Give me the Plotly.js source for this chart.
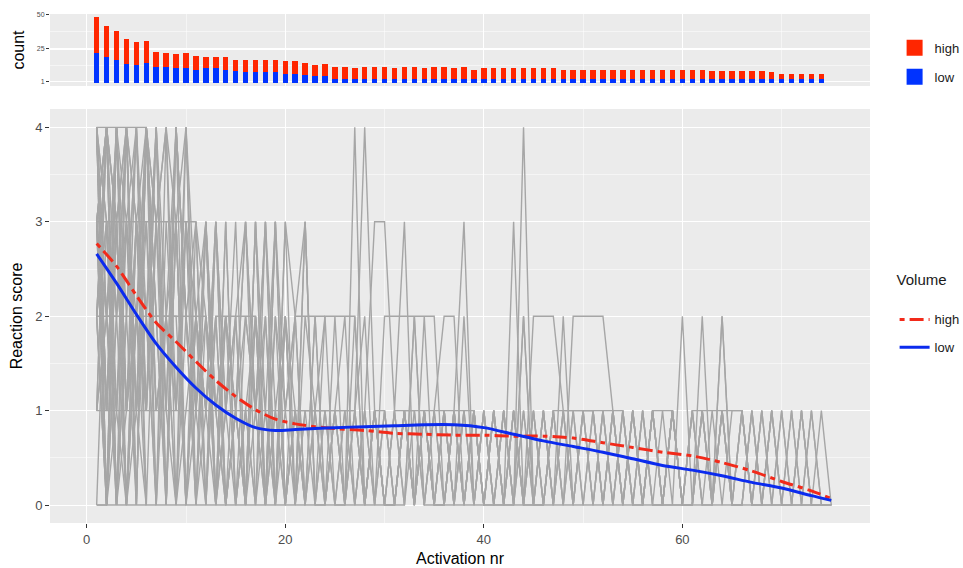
<!DOCTYPE html>
<html>
<head>
<meta charset="utf-8">
<script src="https://cdn.plot.ly/plotly-3.0.1.min.js"></script>
<style>html,body{margin:0;padding:0;background:#fff}#chart{width:963px;height:568px}</style>
</head>
<body>
<div id="chart"></div>
<script>
// ---- data ----
const activationNr = [1,2,3,4,5,6,7,8,9,10,11,12,13,14,15,16,17,18,19,20,21,22,23,24,25,26,27,28,29,30,31,32,33,34,35,36,37,38,39,40,41,42,43,44,45,46,47,48,49,50,51,52,53,54,55,56,57,58,59,60,61,62,63,64,65,66,67,68,69,70,71,72,73,74];
const lowCounts = [22,19,17,14,13,15,12,12,11,11,10,11,11,10,9,8,8,8,8,7,7,6,5,5,3,3,3,3,3,3,3,3,3,3,3,3,3,3,3,3,3,3,3,3,3,3,3,3,3,3,3,3,3,3,3,3,3,3,3,3,3,3,3,3,3,3,3,3,3,3,3,3,3,3];
const highCounts = [26,23,21,18,17,16,11,10,10,11,10,8,8,9,8,9,9,9,9,9,9,9,8,9,9,9,8,9,9,9,8,9,9,8,9,9,8,9,7,8,8,8,8,8,8,8,8,7,7,7,7,7,7,7,7,7,7,7,7,7,7,7,6,6,6,6,6,6,5,4,4,4,4,4];
const volumeGroups = ['high', 'low'];

// smoothed reaction score per volume group
const smoothX    = [1,3,5,7,9,11,13,15,17,19,21,23,25,28,31,34,37,40,43,46,49,52,55,58,61,64,67,70,73,75];
const highSmooth = [2.77,2.53,2.22,1.93,1.73,1.52,1.32,1.15,1.01,0.91,0.86,0.83,0.81,0.79,0.76,0.75,0.74,0.74,0.73,0.73,0.71,0.66,0.61,0.56,0.52,0.45,0.36,0.25,0.15,0.07];
const lowSmooth  = [2.66,2.35,2.02,1.71,1.46,1.24,1.06,0.92,0.82,0.79,0.80,0.81,0.82,0.83,0.84,0.85,0.85,0.82,0.75,0.68,0.62,0.56,0.49,0.42,0.37,0.31,0.24,0.18,0.10,0.05];

// individual reaction-score trajectories (score at activation 1, 2, 3, ...)
const subjectScores = [
 [4,4,4,4,4,4,3,1,0,1,2,1,0,1,0,1,0,1,0,1,0,1,1,1,0,0,1,0,1,1,0,1,0,1,0,1,0,1,0,1,0,1,0,1,0,0,1,0,1,0,1,0,1,0,1,0,1,0,1,0,1,0,0,1,0,0,1,0,1,0,1,0,0,0,0],
 [3,3,3,3,3,3,3,3,3,3,3,2,1,0,1,2,1,0,1,0,1,0,1,2,2,2,2,0,1,0,1,0,2,0,1,0,1,0,1,0,0,1,0,2,0,1,0,1,0,1,0,1,0,1,0,1,0,0,1,0,0,1,0,1,0,1,0,0,1,0,0,1,0,1,0],
 [2,2,2,2,2,2,2,2,2,2,2,2,1,0,1,0,1,0,1,0,1,1,1,1,1,1,1,0,1,0,1,1,1,1,1,1,1,1,1,0,1,0,1,0,1,0,1,1,1,1,1,0,1,0,1,0,1,0,1,0,1,1,1,1,1,1,0,1,0,1,0,1,0,0,0],
 [4,2,4,1,3,2,4,1,4,2,3,0,2,0,1,0,2,0,2,0,1,0,2,0,1,0,4,0,1,0,0,1,0,1,0,1,0,2,0,1,0,0,0,1,0,1,0,1,0,1,0,1,0,1,0,1,0,0,1,0,0,1,0,2,0,1,0,1,0,1,0,0,1,0,0],
 [3,4,3,4,3,4,3,4,3,4,2,3,1,2,1,3,1,2,0,2,0,2,1,0,1,0,1,4,1,0,1,0,1,0,1,0,1,0,1,0,1,0,1,0,0,0,1,0,1,0,1,0,1,0,1,0,1,0,0,0,1,0,0,0,0,0,0,0,0,0,0,0,0,0,0],
 [4,3,2,3,2,3,1,2,1,3,0,3,0,3,0,2,1,3,1,2,0,3,0,1,0,1,0,1,3,3,1,3,0,1,0,0,1,0,1,0,1,0,1,0,1,0,1,0,2,2,2,2,1,0,1,0,1,0,1,0,0,1,0,1,0,0,1,0,0,0,1,0,1,0,0],
 [3,1,4,2,0,4,2,0,3,0,2,1,3,0,2,0,3,0,2,1,2,0,1,0,2,0,1,2,0,2,2,2,2,2,2,0,1,3,0,1,0,1,0,2,0,1,0,2,0,1,0,1,0,1,0,1,0,1,0,2,0,1,0,1,0,0,1,0,1,0,0,1,0,0,0],
 [2,4,0,4,1,3,0,2,4,2,1,3,0,2,0,1,2,0,3,0,1,0,2,0,1,2,0,1,0,1,0,1,1,0,1,2,2,0,1,0,1,0,3,0,2,2,2,1,1,1,1,0,1,0,1,0,1,0,1,0,1,0,1,0,1,1,0,0,1],
 [4,1,3,0,2,1,4,2,3,0,3,0,3,1,2,0,2,1,0,3,0,1,0,2,0,1,0,1,0,1,0,1,0,1,0,1,0,1,0,1,0,1,0,4,0,1,0,1,0,1,1,1,1,1,0,0,1,1,1,0,0,2,0,2,0,1,0,1],
 [3,2,0,1,4,2,0,3,1,4,0,2,0,2,1,3,0,2,0,3,2,0,0,0,0,0,0,0,0,0,0,0,2,0,0,0,0,0,0,0,0,0,0,0,0,0,0,0,0,0,0,0,0,0,0,0,0,0,0,0,0,0],
 [2,3,1,4,0,4,1,2,0,3,1,2,0,3,0,1,0,3,0,2,0,3,0,0,1,0,2,0,1,0,0,1,0,2,0,0,1,0,1,0,1,0,1,0,1,0,1],
 [1,1,1,1,1,1,1,1,1,1,1,1,1,1,1,1,1,1,1,1,1,1,1,1,1,1,1,0,1,0,0,1,0,1,0,1,0,1],
 [3,4,2,4,3,2,0,4,1,3,2,0,3,1,3,0,3,1,3,0,2,3,0,1],
 [4,2,1,3,1,4,2,2,0,4,1,0,2,2,2,2,2,0,3,1,2,2,2,2],
 [2,0,4,1,2,1,3,0,4,0,2,1,3,0,0,0,0,0,0,0,0,0],
 [1,4,3,0,2,4,1,2,2,0,1,3,0,1,2,3,1,3,0,2,1],
 [4,1,4,3,4,0,3,1,4,2,0,1,2,0,1,0,3,0,3],
 [3,2,4,0,3,1,4,0,4,2,0,3,1,2],
 [2,4,1,3,0,4,2,0,3,0,0,0,0,0],
 [3,0,4,1,3,2,4,0,3,0,2],
 [4,3,0,2,4,1,3,4,0,2],
 [1,2,3,4,0,4,0,0,0,0],
 [4,0,3,1,2,0,0],
 [4,1,3,0,2,4],
 [3,4,0,2,4,1],
 [2,0,4,1,3,0],
 [0,3,1,0,0,0],
 [4,2,2,0,3,1],
 [1,4,3,0,1,2],
 [3,0,2,4,1,0],
 [2,4,0,3,1,4],
 [3,0,0,0],
 [4,0,1],
 [2,3,0],
 [0,0,2],
 [3,1,4],
 [1,2,0],
 [4,0,3],
 [4,1],
 [2,0],
 [3,4],
 [0,0],
 [4],[3],[0],[2],[1],[4]
];

const FONT = 'Liberation Sans, Arial, Helvetica, sans-serif';
const RED_BAR = '#FF2600', BLUE_BAR = '#0033FF';
const RED_LINE = '#F22A1A', BLUE_LINE = '#0B2BEE';

const traces = [];
subjectScores.forEach(function (s) {
  traces.push({
    type: 'scatter', mode: 'lines',
    x: activationNr.slice(0, s.length).concat(s.length > 74 ? [75] : []),
    y: s,
    xaxis: 'x', yaxis: 'y',
    line: {color: '#A6A6A6', width: 1.4},
    showlegend: false, hoverinfo: 'skip'
  });
});
traces.push({
  type: 'scatter', mode: 'lines', name: volumeGroups[0], legendgroup: 'h2',
  legendgrouptitle: {text: '\u00a0', font: {size: 1}},
  x: smoothX, y: highSmooth, xaxis: 'x', yaxis: 'y', legend: 'legend2',
  line: {color: RED_LINE, width: 3, dash: '5px,5px,14px,5px', shape: 'spline', smoothing: 0.8}
});
traces.push({
  type: 'scatter', mode: 'lines', name: volumeGroups[1], legendgroup: 'l2',
  x: smoothX, y: lowSmooth, xaxis: 'x', yaxis: 'y', legend: 'legend2',
  line: {color: BLUE_LINE, width: 3, shape: 'spline', smoothing: 0.8}
});
traces.push({
  type: 'bar', name: volumeGroups[1], x: activationNr, y: lowCounts,
  xaxis: 'x2', yaxis: 'y2', showlegend: false,
  marker: {color: BLUE_BAR}, width: 0.55
});
traces.push({
  type: 'bar', name: volumeGroups[0], x: activationNr, y: highCounts,
  xaxis: 'x2', yaxis: 'y2', showlegend: false,
  marker: {color: RED_BAR}, width: 0.55
});
// legend keys for the count panel (no data points of their own)
traces.push({
  type: 'scatter', mode: 'markers', name: volumeGroups[0], legendgroup: 'h1',
  x: [null], y: [null], xaxis: 'x2', yaxis: 'y2', legend: 'legend',
  marker: {symbol: 'square', size: 30, color: RED_BAR}
});
traces.push({
  type: 'scatter', mode: 'markers', name: volumeGroups[1], legendgroup: 'l1',
  x: [null], y: [null], xaxis: 'x2', yaxis: 'y2', legend: 'legend',
  marker: {symbol: 'square', size: 30, color: BLUE_BAR}
});

const xCommon = {
  range: [-3.7, 78.9], tickvals: [0, 20, 40, 60],
  showgrid: true, gridcolor: '#FFFFFF', gridwidth: 1.1,
  minor: {tickvals: [10, 30, 50, 70], showgrid: true, gridcolor: '#FFFFFF', gridwidth: 0.5, ticks: ''},
  zeroline: false, showline: false, automargin: false
};

const layout = {
  width: 963, height: 568,
  margin: {l: 50, r: 93, t: 14, b: 45, autoexpand: false},
  paper_bgcolor: '#FFFFFF', plot_bgcolor: '#EBEBEB',
  font: {family: FONT, color: '#4D4D4D'},
  barmode: 'stack', bargap: 0,
  xaxis: Object.assign({}, xCommon, {
    anchor: 'y', domain: [0, 1],
    ticks: 'outside', ticklen: 4, tickwidth: 1.1, tickcolor: '#333333',
    tickfont: {size: 13, color: '#4D4D4D', family: FONT},
    title: {text: 'Activation nr', font: {size: 16, color: '#000000', family: FONT}, standoff: 7}
  }),
  xaxis2: Object.assign({}, xCommon, {
    anchor: 'y2', matches: 'x', showticklabels: false, ticks: ''
  }),
  yaxis: {
    domain: [0, 0.8134], anchor: 'x', range: [-0.19, 4.195],
    tickvals: [0, 1, 2, 3, 4],
    ticks: 'outside', ticklen: 4, tickwidth: 1.1, tickcolor: '#333333',
    tickfont: {size: 13, color: '#4D4D4D', family: FONT},
    showgrid: true, gridcolor: '#FFFFFF', gridwidth: 1.1,
    minor: {tickvals: [0.5, 1.5, 2.5, 3.5], showgrid: true, gridcolor: '#FFFFFF', gridwidth: 0.5, ticks: ''},
    zeroline: false, showline: false, automargin: false,
    title: {text: 'Reaction score', font: {size: 16, color: '#000000', family: FONT}, standoff: 8}
  },
  yaxis2: {
    domain: [0.8585, 1], anchor: 'x2', range: [-2, 50.5],
    tickvals: [1, 25, 50],
    ticks: 'outside', ticklen: 3, tickwidth: 1, tickcolor: '#333333',
    tickfont: {size: 7, color: '#4D4D4D', family: FONT},
    showgrid: true, gridcolor: '#FFFFFF', gridwidth: 1.1,
    minor: {tickvals: [13, 37.5], showgrid: true, gridcolor: '#FFFFFF', gridwidth: 0.5, ticks: ''},
    zeroline: false, showline: false, automargin: false,
    title: {text: 'count', font: {size: 16, color: '#000000', family: FONT}, standoff: 8}
  },
  legend: {
    x: 1.03, y: 0.963, xanchor: 'left', yanchor: 'top',
    traceorder: 'grouped', bgcolor: 'rgba(0,0,0,0)',
    font: {size: 13, color: '#1A1A1A', family: FONT},
    itemwidth: 30, itemsizing: 'trace', tracegroupgap: 9
  },
  legend2: {
    x: 1.03, y: 0.505, xanchor: 'left', yanchor: 'top',
    traceorder: 'grouped', bgcolor: 'rgba(0,0,0,0)',
    title: {text: 'Volume', font: {size: 15, color: '#1A1A1A', family: FONT}},
    font: {size: 13, color: '#1A1A1A', family: FONT},
    itemwidth: 30, tracegroupgap: 8
  }
};

Plotly.newPlot('chart', traces, layout, {displayModeBar: false, staticPlot: true});
</script>
</body>
</html>
